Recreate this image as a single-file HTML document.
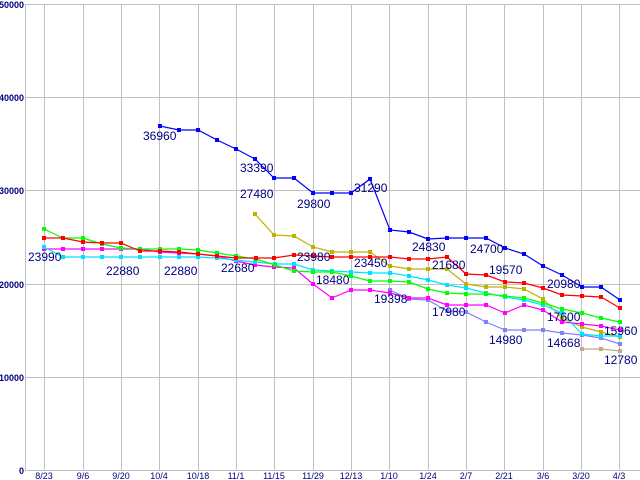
<!DOCTYPE html><html><head><style>body{margin:0;background:#fff}svg{display:block}</style></head><body>
<svg id="s" width="640" height="480" xmlns="http://www.w3.org/2000/svg" font-family="Liberation Sans, sans-serif">
<g stroke="#c0c0c0" stroke-width="1">
<line x1="25.5" y1="4" x2="25.5" y2="470"/>
<line x1="25" y1="4.5" x2="640" y2="4.5"/><line x1="25" y1="97.5" x2="640" y2="97.5"/><line x1="25" y1="190.5" x2="640" y2="190.5"/><line x1="25" y1="284.5" x2="640" y2="284.5"/><line x1="25" y1="377.5" x2="640" y2="377.5"/><line x1="25" y1="470.5" x2="640" y2="470.5"/>
<line x1="44.5" y1="4" x2="44.5" y2="470"/><line x1="83.5" y1="4" x2="83.5" y2="470"/><line x1="121.5" y1="4" x2="121.5" y2="470"/><line x1="159.5" y1="4" x2="159.5" y2="470"/><line x1="198.5" y1="4" x2="198.5" y2="470"/><line x1="236.5" y1="4" x2="236.5" y2="470"/><line x1="274.5" y1="4" x2="274.5" y2="470"/><line x1="313.5" y1="4" x2="313.5" y2="470"/><line x1="351.5" y1="4" x2="351.5" y2="470"/><line x1="389.5" y1="4" x2="389.5" y2="470"/><line x1="428.5" y1="4" x2="428.5" y2="470"/><line x1="466.5" y1="4" x2="466.5" y2="470"/><line x1="504.5" y1="4" x2="504.5" y2="470"/><line x1="543.5" y1="4" x2="543.5" y2="470"/><line x1="581.5" y1="4" x2="581.5" y2="470"/><line x1="619.5" y1="4" x2="619.5" y2="470"/>
</g>
<g fill="#000080" font-size="9" font-weight="bold" text-anchor="end">
<text x="24" y="8">50000</text><text x="24" y="101">40000</text><text x="24" y="194">30000</text><text x="24" y="288">20000</text><text x="24" y="381">10000</text><text x="24" y="474">0</text>
</g>
<g fill="#000080" font-size="9" text-anchor="middle">
<text x="44" y="479">8/23</text><text x="83" y="479">9/6</text><text x="121" y="479">9/20</text><text x="159" y="479">10/4</text><text x="198" y="479">10/18</text><text x="236" y="479">11/1</text><text x="274" y="479">11/15</text><text x="313" y="479">11/29</text><text x="351" y="479">12/13</text><text x="389" y="479">1/10</text><text x="428" y="479">1/24</text><text x="466" y="479">2/7</text><text x="504" y="479">2/21</text><text x="543" y="479">3/6</text><text x="581" y="479">3/20</text><text x="619" y="479">4/3</text>
</g>
<g id="lines" fill="none" stroke-width="1.2">
<polyline stroke="#c8a880" points="582,349 601,349 620,351"/>
<polyline stroke="#8080ff" points="390,290 409,299 428,300 447,311 466,312 486,322 505,330 524,330 543,330 562,333 582,335 601,338 620,344"/>
<polyline stroke="#c0b000" points="255,214 274,235 294,236 313,247 332,252 351,252 370,252 390,266 409,269 428,269 447,269 466,284 486,287 505,287 524,289 543,299 562,318 582,327 601,332 620,337"/>
<polyline stroke="#ff00ff" points="44,249 63,249 83,249 102,249 121,249 140,249 160,252 179,253 198,254 217,256 236,261 255,265 274,267 294,268 313,284 332,298 351,290 370,290 390,293 409,298 428,298 447,305 466,305 486,305 505,313 524,305 543,310 562,322 582,324 601,326 620,330"/>
<polyline stroke="#00e0ff" points="44,247 63,257 83,257 102,257 121,257 140,257 160,257 179,257 198,257 217,258 236,260 255,262 275,264 294,264 313,270 332,271 351,272 370,273 390,273 409,276 428,280 447,285 466,288 486,293 505,297 524,300 543,305 562,313 582,334 601,336 620,336"/>
<polyline stroke="#00ff00" points="44,229 63,238 83,238 102,244 121,248 140,249 160,249 179,249 198,250 217,253 236,256 256,259 275,265 294,271 313,272 332,272 351,276 370,281 390,281 409,282 428,289 447,293 466,294 486,294 505,296 524,298 543,303 562,309 582,313 601,318 620,322"/>
<polyline stroke="#ff0000" points="44,238 63,238 83,242 102,243 121,243 140,251 160,251 179,252 198,254 217,256 236,258 256,258 274,258 294,255 313,256 332,257 351,257 370,257 390,257 409,259 428,259 447,257 466,274 486,275 505,282 524,283 543,288 562,295 582,296 601,297 620,308"/>
<polyline stroke="#0000ff" points="160,126 179,130 198,130 217,140 236,149 255,159 274,178 294,178 313,193 332,193 351,193 370,179 390,230 409,232 428,239 447,238 466,238 486,238 505,248 524,254 543,266 562,275 582,287 601,287 620,300"/>
</g>
<g fill="#000080" font-size="12">
<text x="143" y="140">36960</text><text x="240" y="172">33390</text><text x="297" y="208">29800</text><text x="354" y="192">31290</text><text x="240" y="198">27480</text><text x="297" y="261">23980</text><text x="354" y="267">23450</text><text x="412" y="251">24830</text><text x="470" y="253">24700</text><text x="432" y="269">21680</text><text x="489" y="274">19570</text><text x="547" y="288">20980</text><text x="547" y="321">17600</text><text x="604" y="335">15960</text><text x="547" y="347">14668</text><text x="489" y="344">14980</text><text x="604" y="364">12780</text><text x="432" y="316">17980</text><text x="374" y="303">19398</text><text x="316" y="284">18480</text><text x="28" y="261">23990</text><text x="106" y="275">22880</text><text x="164" y="275">22880</text><text x="221" y="272">22680</text>
</g>
</svg>
<script>
var ns="http://www.w3.org/2000/svg",g=document.getElementById("lines");
Array.prototype.slice.call(g.querySelectorAll("polyline")).forEach(function(p){
var c=p.getAttribute("stroke");p.getAttribute("points").trim().split(/\s+/).forEach(function(pt){
var a=pt.split(","),r=document.createElementNS(ns,"rect");r.setAttribute("x",+a[0]-2);r.setAttribute("y",+a[1]-2);r.setAttribute("width",4);r.setAttribute("height",4);r.setAttribute("fill",c);r.setAttribute("stroke","none");g.appendChild(r);});});
</script>
</body></html>
